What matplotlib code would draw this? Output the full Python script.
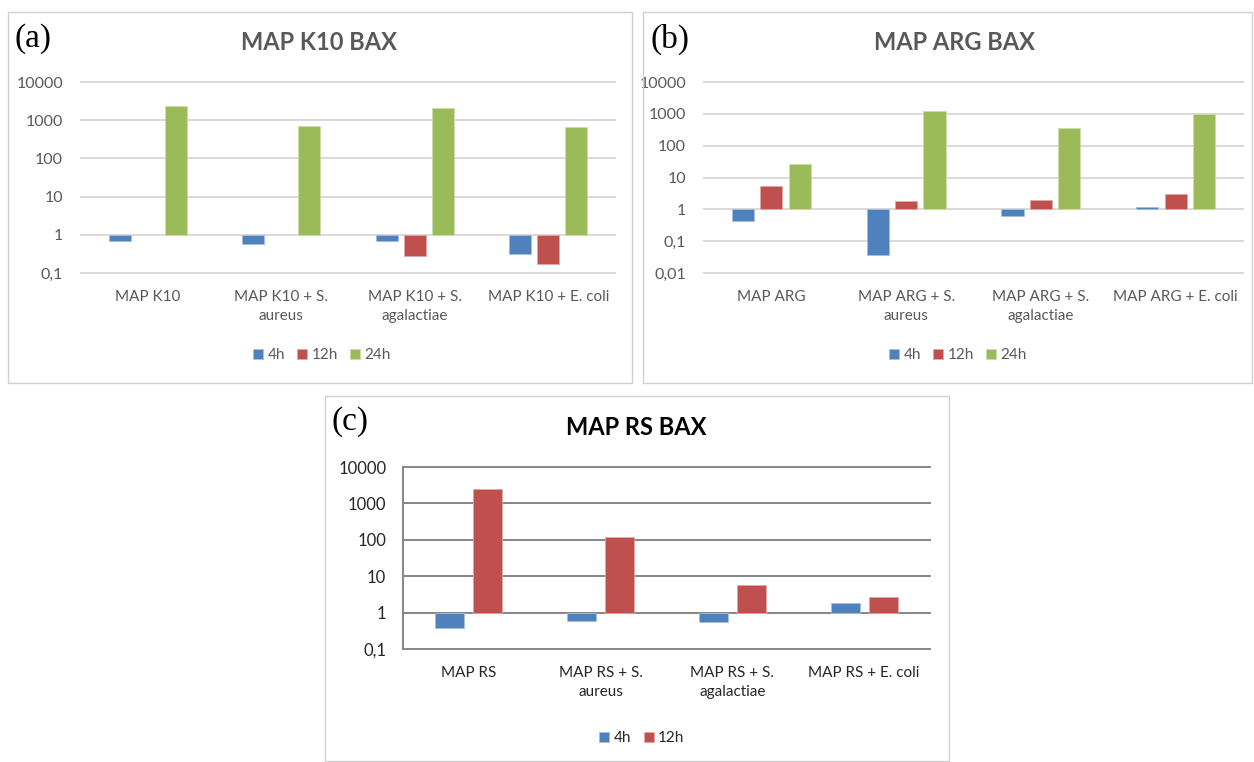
import matplotlib.pyplot as plt
import numpy as np
from matplotlib.patches import Rectangle

plt.rcParams['font.family'] = ['Lato', 'DejaVu Sans']

# fold change relative to control (log axis, bars grow from 1)
cats_k10 = ["MAP K10", "MAP K10 + S.\naureus", "MAP K10 + S.\nagalactiae", "MAP K10 + E. coli"]
k10_4h = [0.70, 0.58, 0.70, 0.31]
k10_12h = [np.nan, np.nan, 0.28, 0.17]
k10_24h = [2340, 695, 2080, 655]

cats_arg = ["MAP ARG", "MAP ARG + S.\naureus", "MAP ARG + S.\nagalactiae", "MAP ARG + E. coli"]
arg_4h = [0.42, 0.036, 0.62, 1.15]
arg_12h = [5.6, 1.8, 2.0, 3.0]
arg_24h = [27, 1240, 365, 1000]

cats_rs = ["MAP RS", "MAP RS + S.\naureus", "MAP RS + S.\nagalactiae", "MAP RS + E. coli"]
rs_4h = [0.38, 0.60, 0.54, 1.8]
rs_12h = [2460, 120, 5.9, 2.6]

ticks_3 = [0.1, 1, 10, 100, 1000, 10000]
ticklabels_3 = ["0,1", "1", "10", "100", "1000", "10000"]
ticks_4 = [0.01] + ticks_3
ticklabels_4 = ["0,01"] + ticklabels_3

series_names = ["4h", "12h", "24h"]
colors = ["#4F81BD", "#C0504D", "#9BBB59"]
edges = ["#A7C0DE", "#E0A8A6", "#CDDDAC"]
txt_gray = "#595959"

W, H = 1254, 762
fig = plt.figure(figsize=(W / 100, H / 100), dpi=100)


def px_axes(x0, y0, x1, y1):
    return fig.add_axes([x0 / W, 1 - y1 / H, (x1 - x0) / W, (y1 - y0) / H])


def frame(x0, y0, x1, y1):
    fig.patches.append(Rectangle((x0 / W, 1 - y1 / H), (x1 - x0) / W, (y1 - y0) / H,
                                 transform=fig.transFigure, fill=False,
                                 edgecolor="#D0D0D0", lw=1.0))


def panel(ax, cats, series, ticks, ticklabels, width, step, grid_color, title, tag,
          title_xy, tag_xy, legend_xy, title_color, tick_color, ysize, ypad):
    x = np.arange(len(cats))
    n = len(series)
    for i, vals in enumerate(series):
        vals = np.asarray(vals, dtype=float)
        ok = ~np.isnan(vals)
        off = (i - (n - 1) / 2) * step
        ax.bar(x[ok] + off, vals[ok] - 1, bottom=1, width=width, color=colors[i],
               edgecolor=edges[i], lw=0.6, label=series_names[i], zorder=3)
    ax.set_yscale("log")
    ax.set_ylim(ticks[0], ticks[-1])
    ax.set_xlim(-0.5, len(cats) - 0.5)
    ax.set_yticks(ticks)
    ax.set_yticklabels(ticklabels)
    ax.minorticks_off()
    ax.set_xticks(x)
    ax.set_xticklabels(cats, linespacing=1.5)
    ax.tick_params(length=0, labelcolor=tick_color)
    ax.tick_params(axis="x", pad=12, labelsize=11)
    ax.tick_params(axis="y", pad=ypad, labelsize=ysize)
    for s in ax.spines.values():
        s.set_visible(False)
    ax.yaxis.grid(True, color=grid_color, lw=1.4, zorder=0)
    for gl in ax.get_ygridlines():
        gl.set_clip_on(False)
    fig.text(title_xy[0] / W, 1 - title_xy[1] / H, title, ha="center", va="center",
             fontsize=17, fontweight="bold", color=title_color)
    fig.text(tag_xy[0] / W, 1 - tag_xy[1] / H, tag, ha="left", va="center",
             fontsize=24, family="Liberation Serif", color="black")
    ax.legend(loc="center", bbox_to_anchor=(legend_xy[0] / W, 1 - legend_xy[1] / H),
              bbox_transform=fig.transFigure, ncol=n, frameon=False, fontsize=11,
              handlelength=0.65, handleheight=0.65, handletextpad=0.3,
              columnspacing=0.8, labelcolor=tick_color)


# (a)
frame(8, 12, 632, 383)
ax_a = px_axes(81, 82, 615, 273)
panel(ax_a, cats_k10, [k10_4h, k10_12h, k10_24h], ticks_3, ticklabels_3,
      0.165, 0.21, "#D9D9D9", "MAP K10 BAX", "(a)", (319, 43), (14, 39), (322, 355),
      txt_gray, txt_gray, 11.5, 13)

# (b)
frame(643, 12, 1252, 383)
ax_b = px_axes(704, 82, 1243, 273)
panel(ax_b, cats_arg, [arg_4h, arg_12h, arg_24h], ticks_4, ticklabels_4,
      0.165, 0.21, "#D9D9D9", "MAP ARG BAX", "(b)", (954, 43), (651, 39), (958, 355),
      txt_gray, txt_gray, 11.5, 13)

# (c)
frame(325, 396, 949, 761)
ax_c = px_axes(403, 467, 930, 649)
panel(ax_c, cats_rs, [rs_4h, rs_12h], ticks_3, ticklabels_3,
      0.22, 0.29, "#868686", "MAP RS BAX", "(c)", (636, 427), (332, 422), (642, 738),
      "black", "#262626", 12, 12)
ax_c.spines["left"].set_visible(True)
ax_c.spines["left"].set_color("#868686")
ax_c.spines["left"].set_linewidth(1.4)

fig.savefig("out.png", dpi=100)
